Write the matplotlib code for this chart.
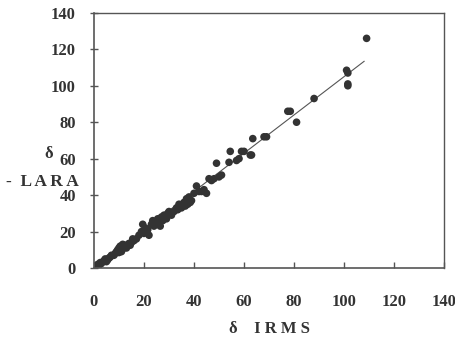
import numpy as np
import matplotlib.pyplot as plt

plt.rcParams['font.family'] = ['Liberation Serif', 'DejaVu Serif']

# delta values
x_irms = [0.5, 1, 1.5, 2, 2.5, 3, 4, 4.5, 5, 6,
          6.5, 7, 8, 8.5, 9, 9.5, 10, 10.5, 11, 11.5,
          12, 12.5, 13, 14, 14.5, 15, 16, 17, 18, 19,
          19.5, 20, 20.5, 21, 22, 23, 23.5, 24, 25, 25.5,
          26, 27, 27.5, 28, 29, 30, 30.5, 31, 32, 33,
          34, 35, 36, 37, 37.5, 38, 39, 40, 41, 42,
          43, 44, 45, 46, 47, 48, 49, 50, 51, 54,
          54.5, 57, 58, 59, 60, 62.5, 63, 63.5, 68, 69,
          77.5, 78.5, 81, 88, 101, 101.5, 101.5, 101.5, 109,
          5.5, 10, 11, 13, 15.5, 21.5, 24.5, 26.5, 29.5, 33.5, 36.5, 38.5]
y_lara = [1, 0.5, 2, 1.5, 3, 2.5, 4, 5, 3.5, 5.5,
          6, 7, 7, 8, 9, 10, 8.5, 12, 10, 13,
          11, 12.5, 12, 13.5, 12.5, 14, 15, 16, 18, 20,
          24, 19, 22, 20, 18, 24, 26, 23, 25, 27,
          24, 28, 26, 29, 27, 31, 30, 29, 31, 33,
          35, 33, 36, 38, 35, 39, 37, 41, 45, 42,
          42, 43, 41, 49, 48, 49, 57.5, 50, 51, 58,
          64, 59, 60, 64, 64, 62, 62, 71, 72, 72,
          86, 86, 80, 93, 108.5, 107, 101, 100, 126,
          4.5, 11, 9, 11, 16, 21, 25, 23, 30, 32, 34, 36]
fit_x = [0, 108]
fit_slope = 1.05

fig = plt.figure(figsize=(4.56, 3.38), dpi=100)
ax = fig.add_axes([0.206, 0.207, 0.768, 0.755])

ax.plot(fit_x, [v * fit_slope for v in fit_x], color='#555555', lw=0.8, zorder=1)
ax.scatter(x_irms, y_lara, s=30, color='#333333', edgecolors='none', zorder=2)

ax.set_xlim(0, 140)
ax.set_ylim(0, 140)
ax.set_xticks(np.arange(0, 141, 20))
ax.set_yticks(np.arange(0, 141, 20))
for s in ax.spines.values():
    s.set_color('#555555')
    s.set_linewidth(1.2)
ax.spines['top'].set_linewidth(1.0)
ax.spines['right'].set_linewidth(1.0)
ax.tick_params(axis='x', direction='in', length=4, width=1, color='#555555',
               pad=19, labelsize=12, labelcolor='#333333')
ax.tick_params(axis='y', direction='inout', length=6, width=1, color='#555555',
               pad=10, labelsize=12, labelcolor='#333333')
for lab in ax.get_xticklabels() + ax.get_yticklabels():
    lab.set_fontweight('bold')

fig.text(49 / 456, 1 - 154 / 338, 'δ', ha='center', va='center',
         fontsize=12, fontweight='bold', color='#333333')
fig.text(79 / 456, 1 - 182 / 338, '-  L A R A', ha='right', va='center',
         fontsize=12.5, fontweight='bold', color='#333333')
fig.text(270 / 456, 1 - 329 / 338, 'δ    I R M S', ha='center', va='center',
         fontsize=12, fontweight='bold', color='#333333')

fig.savefig('out.png', dpi=100)
